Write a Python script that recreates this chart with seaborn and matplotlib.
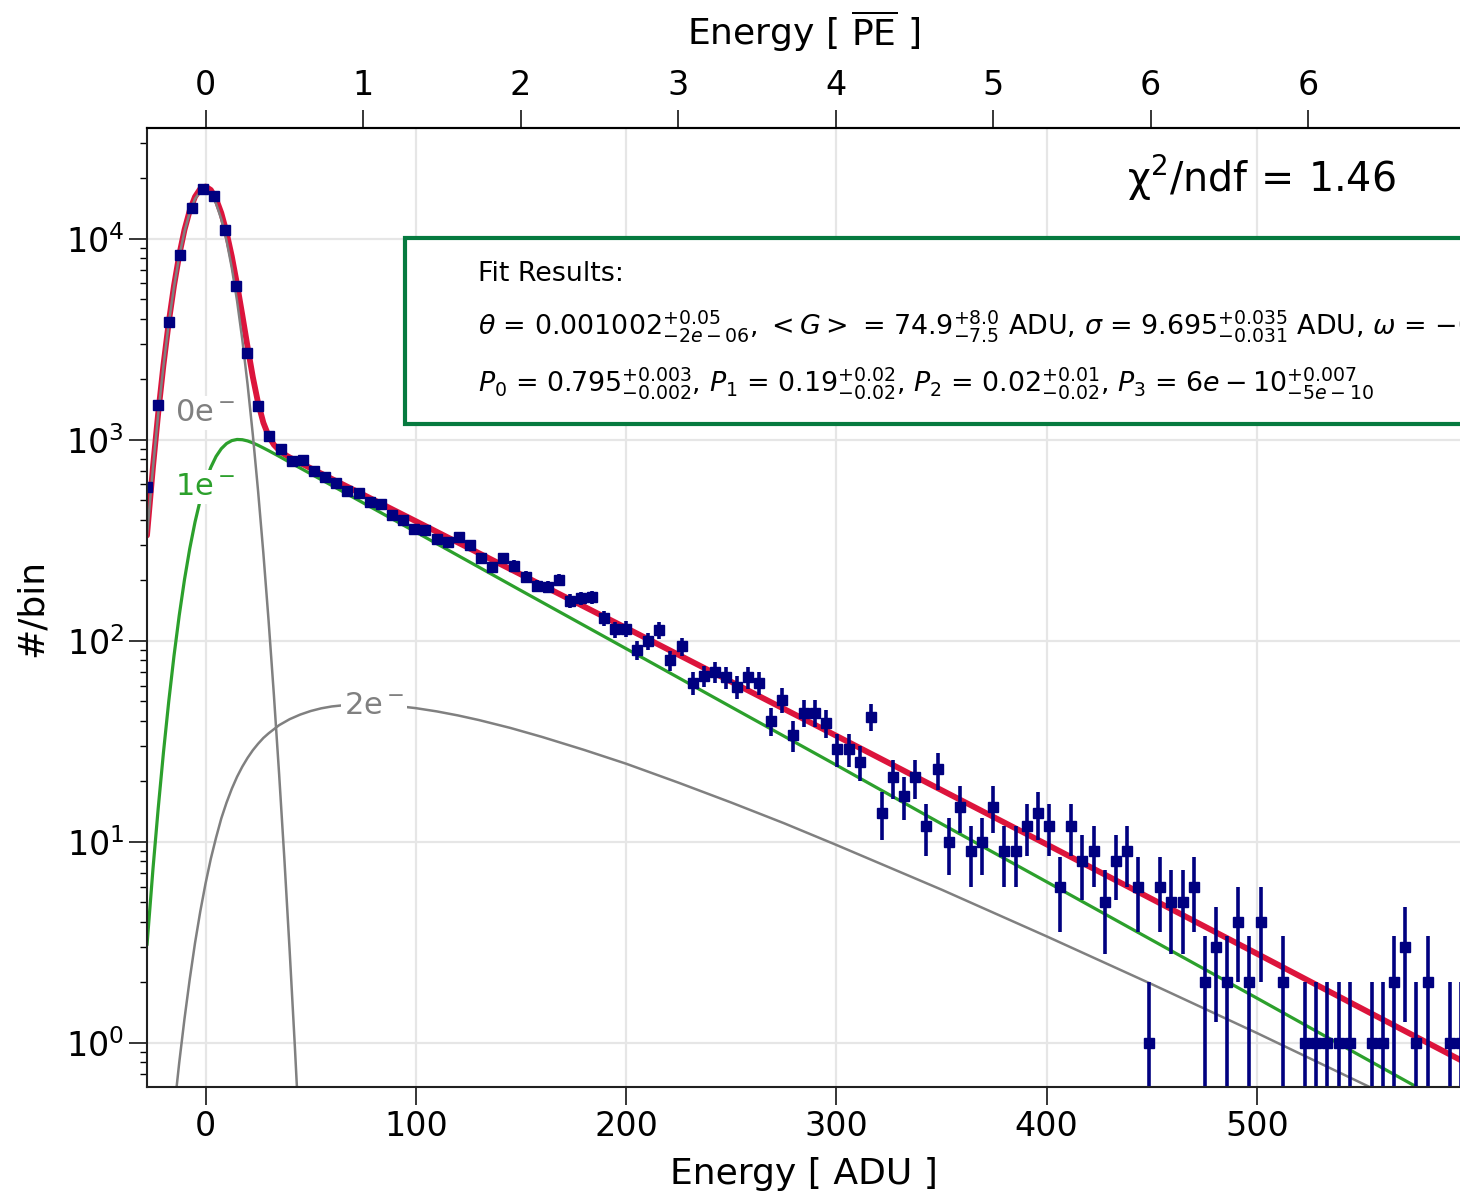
import numpy as np
import matplotlib
matplotlib.use("Agg")
import matplotlib.pyplot as plt
import seaborn as sns
from matplotlib.lines import Line2D

# histogram: regular bins, centres start at bin_start (ADU)
bin_start = -27.83
bin_width = 5.295
counts = [580, 1490, 3880, 8320, 14300, 17660, 16400, 11090, 5840, 2690,
          1480, 1047, 906, 789, 795, 701, 657, 609, 560, 543,
          490, 481, 425, 400, 359, 355, 321, 311, 328, 301,
          259, 233, 259, 236, 209, 188, 186, 201, 158, 163,
          165, 130, 114, 115, 90, 100, 113, 80, 94, 62,
          67, 70, 66, 59, 66, 62, 40, 51, 34, 44,
          44, 39, 29, 29, 25, 42, 14, 21, 17, 21,
          12, 23, 10, 15, 9, 10, 15, 9, 9, 12,
          14, 12, 6, 12, 8, 9, 5, 8, 9, 6,
          1, 6, 5, 5, 6, 2, 3, 2, 4, 2,
          4, 0, 2, 0, 1, 1, 1, 1, 1, 0,
          1, 1, 2, 3, 1, 2, 0, 1, 1]

# fitted curves (ADU, counts/bin)
x_0e = [-27.83, -25, -22.5, -20, -17.5, -15, -12.5, -10, -7.5, -5, -2.5, 0,
        2.5, 5, 7.5, 10, 12.5, 15, 17.5, 20, 22.5, 25, 27.5, 30, 32.5, 35,
        37.5, 40, 42.5, 45]
y_0e = [332, 725, 1344, 2333, 3788, 5757, 8187, 10895, 13564, 15805, 17230, 17580,
        16780, 14990, 12525, 9795, 7168, 4909, 3145, 1886, 1058, 555, 273, 125.5, 54, 21.7,
        8.2, 2.88, 0.95, 0.29]

x_1e = [-27.83, -25, -22.5, -20, -17.5, -15, -12.5, -10, -7.5, -5, -2.5, 0,
        2.5, 5, 7.5, 10, 12.5, 15, 17.5, 20, 22.5, 25, 27.5, 30, 35, 40, 50,
        100, 150, 200, 250, 300, 350, 400, 450, 500, 550, 597]
y_1e = [3.07, 7.32, 14.7, 27.9, 49.9, 84.2, 134, 202, 288, 390, 503, 620,
        730, 827, 904, 959, 992, 1005, 1002, 988, 966, 940, 912, 884, 828, 774, 678,
        348, 178, 91.5, 46.9, 24.1, 12.3, 6.33, 3.25, 1.67, 0.854, 0.456]

x_2e = [-15, -12.5, -10, -7.5, -5, -2.5, 0, 2.5, 5, 7.5, 10, 12.5, 15, 17.5,
        20, 22.5, 25, 27.5, 30, 35, 40, 45, 50, 55, 60, 67.5, 75, 82.5, 90,
        100, 110, 120, 130, 145, 160, 180, 200, 225, 250, 275, 300, 350, 400,
        450, 500, 550, 560]
y_2e = [0.458, 0.799, 1.32, 2.08, 3.14, 4.51, 6.21, 8.24, 10.5, 13.1, 15.7, 18.4, 21.1, 23.7,
        26.2, 28.6, 30.8, 32.9, 34.7, 38.1, 40.8, 43.0, 44.8, 46.2, 47.2, 48.1, 48.4, 48.2, 47.6,
        46.3, 44.6, 42.6, 40.4, 36.9, 33.3, 28.7, 24.5, 19.7, 15.7, 12.4, 9.66, 5.79, 3.39,
        1.96, 1.12, 0.629, 0.561]

x_tot = [-27.83, -25, -22.5, -20, -17.5, -15, -12.5, -10, -7.5, -5, -2.5, 0,
         2.5, 5, 7.5, 10, 12.5, 15, 17.5, 20, 22.5, 25, 27.5, 30, 32.5, 35,
         37.5, 40, 45, 50, 60, 75, 100, 150, 200, 250, 300, 350, 400, 450,
         500, 550, 597]
y_tot = [335, 732, 1359, 2361, 3838, 5842, 8322, 11098, 13854, 16198, 17738, 18206,
         17518, 15828, 13442, 10770, 8179, 5935, 4171, 2900, 2053, 1526, 1218, 1044, 946, 888,
         848, 818, 768, 723, 640, 534, 394, 214, 116, 62.6, 33.7, 18.1, 9.72, 5.20,
         2.78, 1.48, 0.82]

# axis ticks / labels
gain = 74.9
pe_ticks = [0, 1, 2, 3, 4, 5, 6, 7]
pe_labels = ["0", "1", "2", "3", "4", "5", "6", "6"]
adu_ticks = [0, 100, 200, 300, 400, 500]

fit_lines = [
    "Fit Results:",
    r"$\theta$ = $0.001002^{+0.05}_{-2e-06}$, $<G>$ = $74.9^{+8.0}_{-7.5}$ ADU, "
    r"$\sigma$ = $9.695^{+0.035}_{-0.031}$ ADU, $\omega$ = $-0.0$",
    r"$P_0$ = $0.795^{+0.003}_{-0.002}$, $P_1$ = $0.19^{+0.02}_{-0.02}$, "
    r"$P_2$ = $0.02^{+0.01}_{-0.02}$, $P_3$ = $6e-10^{+0.007}_{-5e-10}$",
]
chi2_label = r"χ$^2$/ndf$\,=\,$1.46"

sns.set_theme(style="ticks", rc={"axes.grid": False, "text.color": "black",
                                 "axes.labelcolor": "black", "xtick.color": "black",
                                 "ytick.color": "black"})
plt.rcParams["font.family"] = ["DejaVu Sans"]
plt.rcParams["mathtext.fontset"] = "dejavusans"

fig = plt.figure(figsize=(14.6, 11.96), dpi=100)
ax = fig.add_axes([147 / 1460, 109 / 1196, 1314 / 1460, 959 / 1196])

centres = bin_start + bin_width * np.arange(len(counts))
counts = np.array(counts, dtype=float)
mask = counts > 0

sns.lineplot(x=x_tot, y=y_tot, ax=ax, color="#dc143c", lw=4.2, sort=False, zorder=2)
sns.lineplot(x=x_0e, y=y_0e, ax=ax, color="gray", lw=1.8, sort=False, zorder=2.2)
sns.lineplot(x=x_1e, y=y_1e, ax=ax, color="#2ca02c", lw=2.3, sort=False, zorder=2.1)
sns.lineplot(x=x_2e, y=y_2e, ax=ax, color="gray", lw=1.8, sort=False, zorder=2.1)

ax.errorbar(centres[mask], counts[mask], yerr=np.sqrt(counts[mask]), fmt="s",
            color="#000080", ms=6.5, elinewidth=2.6, capsize=0, zorder=4)

ax.set_yscale("log")
ax.set_xlim(centres[0], centres[-1])
ax.set_ylim(0.604, 35600)

lab_kw = dict(fontsize=22, ha="center", va="center", zorder=3,
              bbox=dict(facecolor="white", edgecolor="none", pad=2))
ax.text(-0.2, 1363, r"0e$^-$", color="gray", **lab_kw)
ax.text(-0.2, 584, r"1e$^-$", color="#2ca02c", **lab_kw)
ax.text(80.2, 47.5, r"2e$^-$", color="gray", **lab_kw)

ax.set_xticks(adu_ticks)
ax.grid(True, which="major", color="#e6e6e6", lw=1.6)
ax.set_axisbelow(True)
ax.tick_params(axis="both", which="major", direction="out", length=13, width=1.1,
               labelsize=24, color="black")
ax.tick_params(axis="y", which="minor", direction="out", length=5, width=1.0, color="black")
ax.set_xlabel("Energy [ ADU ]", fontsize=26, labelpad=10)
ax.set_ylabel("#/bin", fontsize=26, labelpad=12)
for s in ["left", "bottom", "top"]:
    ax.spines[s].set_color("black")
    ax.spines[s].set_linewidth(1.5)
ax.spines["right"].set_visible(False)

ax_top = ax.twiny()
ax_top.set_xlim(ax.get_xlim())
ax_top.set_xticks([n * gain for n in pe_ticks])
ax_top.set_xticklabels(pe_labels)
ax_top.tick_params(axis="x", direction="out", length=13, width=1.1, labelsize=24,
                   color="black", pad=6)
ax_top.set_xlabel(r"Energy [ $\overline{\mathrm{PE}}$ ]", fontsize=26, labelpad=17)
ax_top.spines["top"].set_color("black")
ax_top.spines["top"].set_linewidth(1.5)
ax_top.spines["right"].set_visible(False)
ax_top.grid(False)

ax.text(0.950, 0.948, chi2_label, transform=ax.transAxes, fontsize=28.5,
        ha="right", va="center")

# fit summary box, runs off the right edge like the original
handles = [Line2D([], [], alpha=0) for _ in fit_lines]
leg = ax.legend(handles, fit_lines, loc="upper left",
                bbox_to_anchor=(405 / 1460, 1 - 238 / 1196), bbox_transform=fig.transFigure,
                borderaxespad=0, fontsize=19.4, frameon=True, fancybox=False,
                framealpha=1, edgecolor="#067a3f", borderpad=0.85,
                handlelength=1.25, handletextpad=0.6, labelspacing=0.78)
leg.get_frame().set_linewidth(3)
leg.set_zorder(5)

fig.savefig("out.png", dpi=100)
